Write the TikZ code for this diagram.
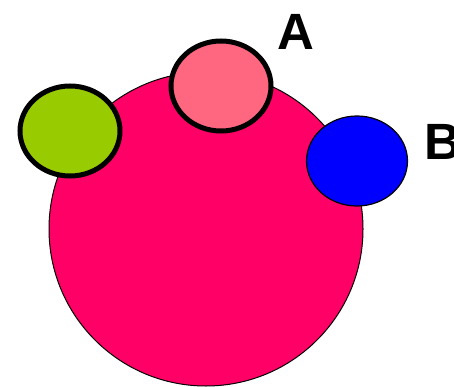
\documentclass[tikz,border=0pt]{standalone}
\usepackage{fontspec}
\setmainfont{Liberation Sans}
\usetikzlibrary{shapes.geometric}
\definecolor{BigRose}{RGB}{255,0,102}
\definecolor{SoftRose}{RGB}{255,102,128}
\definecolor{LeafGreen}{RGB}{153,204,0}
\definecolor{PureBlue}{RGB}{0,0,255}
\begin{document}
\begin{tikzpicture}[
x=1pt,y=-1pt,
disc/.style={circle,draw=black,line width=1pt,fill=BigRose,minimum size=314pt,inner sep=0pt},
blob/.style={ellipse,draw=black,line width=5pt,minimum width=100pt,minimum height=90pt,inner sep=0pt},
lbl/.style={font=\fontsize{51}{51}\selectfont\bfseries,inner sep=0pt}
]
\useasboundingbox (0,0) rectangle (454,387);
\node[disc] (big) at (206,229) {};
\node[blob,fill=LeafGreen] (green) at (70,131) {};
\node[blob,fill=SoftRose] (rose) at (221,86) {};
\node[blob,fill=PureBlue,line width=1.2pt,minimum width=101pt] (blue) at (357,161) {};
\node[lbl] (la) at (296,32) {A};
\node[lbl,anchor=west] (lb) at (424,142) {B};
\end{tikzpicture}
\end{document}
